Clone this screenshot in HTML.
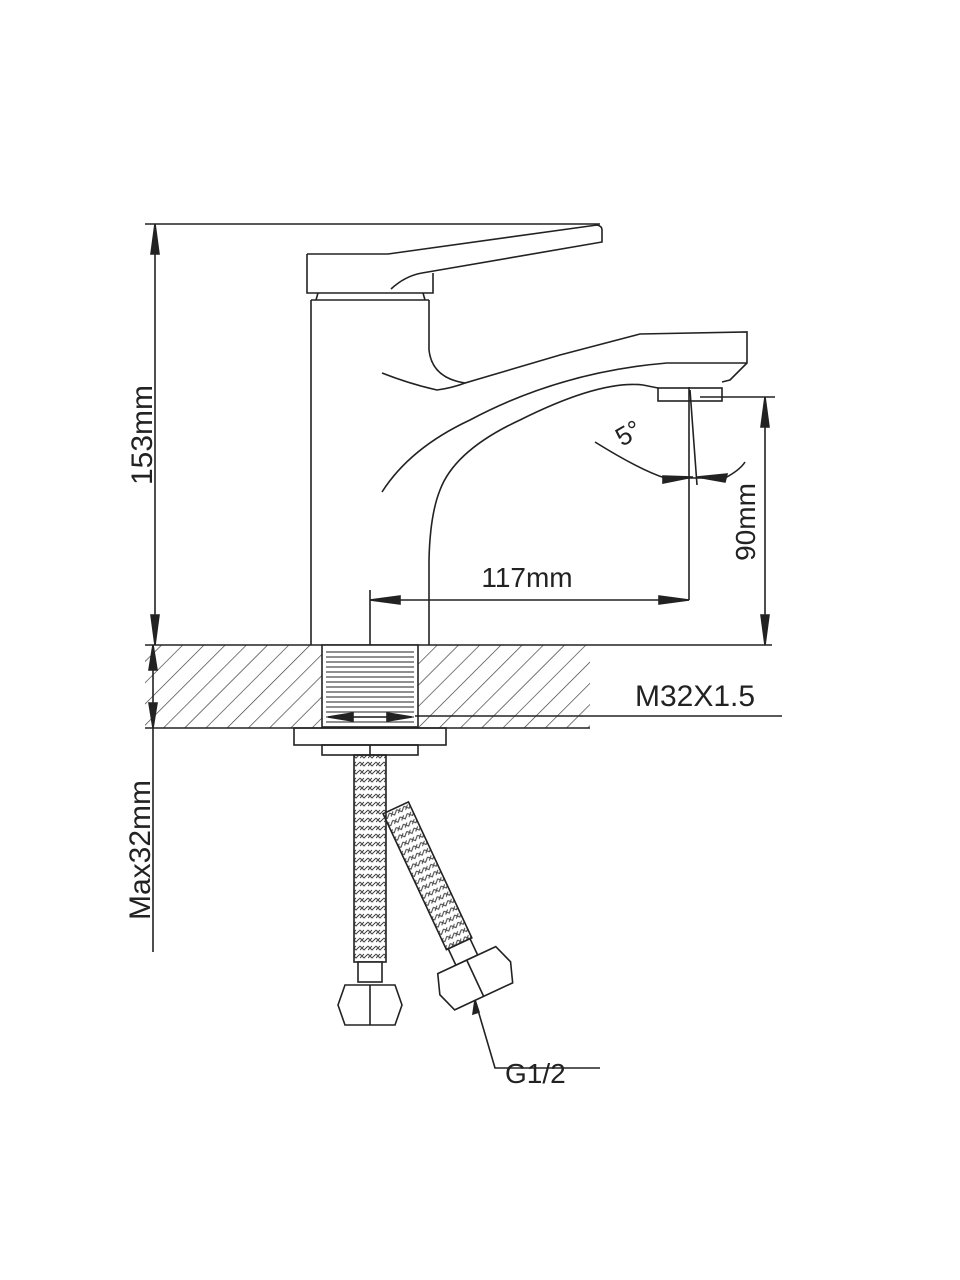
<!DOCTYPE html>
<html><head><style>html,body{margin:0;padding:0;background:#fff}svg{display:block}</style></head>
<body>
<svg width="960" height="1280" viewBox="0 0 960 1280" xmlns="http://www.w3.org/2000/svg" fill="none" stroke="#222" stroke-width="1.6">
<defs>
<pattern id="h" patternUnits="userSpaceOnUse" width="15" height="15" patternTransform="rotate(45)">
<line x1="0" y1="0" x2="0" y2="15" stroke="#333" stroke-width="1.3"/></pattern>
<pattern id="th" patternUnits="userSpaceOnUse" width="6" height="5"><line x1="0" y1="2" x2="6" y2="2" stroke="#444" stroke-width="1.2"/></pattern>
<pattern id="br" patternUnits="userSpaceOnUse" width="8" height="8"><path d="M0 2 L4 6 L8 2 M0 6 L4 2" stroke="#444" stroke-width="1"/></pattern>
</defs>
<!-- 153mm dim -->
<line x1="145" y1="224" x2="600" y2="224"/>
<line x1="155" y1="224" x2="155" y2="645"/>
<path d="M155 224 l-4 30 l8 0z M155 645 l-4 -30 l8 0z" fill="#222"/>
<text x="0" y="0" transform="translate(152,435) rotate(-90)" font-family="Liberation Sans, sans-serif" font-size="30" fill="#222" stroke="none" text-anchor="middle">153mm</text>
<!-- handle -->
<path d="M307 254 L388 254 L597 225 Q602 226 602 230 L602 242 L422 273 Q405 276 391 289"/>
<path d="M307 254 L307 293 L433 293 L433 273"/>
<path d="M316 300 L318 293 M423 293 L425 300 M311 300 L429 300"/>
<!-- body -->
<line x1="311" y1="300" x2="311" y2="645"/>
<path d="M429 300 L429 350 Q432 378 465 383 L560 355 L640 334 L747 332 L747 363 L730 380 L722 382"/>
<path d="M382 373 Q410 384 437 390 Q452 388 465 383"/>
<path d="M747 363 L667 363 Q560 372 470 420 Q410 448 382 492"/>
<path d="M658 388 L643 385 Q600 380 520 420 Q455 450 440 490 Q430 515 429 560 L429 645"/>
<rect x="658" y="388" width="64" height="13"/>
<!-- 5 deg -->
<line x1="689" y1="387" x2="689" y2="600"/>
<line x1="690" y1="390" x2="697" y2="485"/>
<path d="M595 442 Q640 470 665 478 L725 478 Q740 470 745 462"/>
<path d="M663 476 l30 1 l-30 6z M727 474 l-30 3 l28 5z" fill="#222"/>
<text x="0" y="0" transform="translate(622,447) rotate(-30)" font-family="Liberation Sans, sans-serif" font-size="26" fill="#222" stroke="none">5°</text>
<!-- 90mm -->
<line x1="700" y1="397" x2="775" y2="397"/>
<line x1="765" y1="397" x2="765" y2="645"/>
<path d="M765 397 l-4 30 l8 0z M765 645 l-4 -30 l8 0z" fill="#222"/>
<text x="0" y="0" transform="translate(755,522) rotate(-90)" font-family="Liberation Sans, sans-serif" font-size="28" fill="#222" stroke="none" text-anchor="middle">90mm</text>
<!-- 117 -->
<line x1="370" y1="590" x2="370" y2="645"/>
<line x1="370" y1="600" x2="689" y2="600"/>
<path d="M370 600 l30 -4 l0 8z M689 600 l-30 -4 l0 8z" fill="#222"/>
<text x="527" y="587" font-family="Liberation Sans, sans-serif" font-size="28" fill="#222" stroke="none" text-anchor="middle">117mm</text>
<!-- counter -->
<rect x="145" y="645" width="445" height="83" fill="url(#h)" stroke="none"/>
<line x1="145" y1="645" x2="772" y2="645"/>
<line x1="145" y1="728" x2="590" y2="728"/>
<rect x="322" y="645" width="96" height="82" fill="#fff"/>
<rect x="326" y="650" width="88" height="76" fill="url(#th)" stroke="none"/>
<path d="M328 717 l25 -4 l0 8z M412 717 l-25 -4 l0 8z" fill="#222"/>
<line x1="330" y1="717" x2="410" y2="717"/>
<line x1="415" y1="716" x2="782" y2="716"/>
<text x="695" y="706" font-family="Liberation Sans, sans-serif" font-size="30" fill="#222" stroke="none" text-anchor="middle">M32X1.5</text>
<!-- max32 -->
<line x1="153" y1="645" x2="153" y2="952"/>
<path d="M153 645 l-4 25 l8 0z M153 728 l-4 -25 l8 0z" fill="#222"/>
<text x="0" y="0" transform="translate(150,850) rotate(-90)" font-family="Liberation Sans, sans-serif" font-size="30" fill="#222" stroke="none" text-anchor="middle">Max32mm</text>
<!-- nut plate -->
<rect x="294" y="728" width="152" height="17"/>
<rect x="322" y="745" width="96" height="10"/>
<line x1="370" y1="745" x2="370" y2="755"/>
<!-- angled hose -->
<g transform="translate(374,818) rotate(-25)">
<rect x="10" y="0" width="28" height="150" fill="url(#br)"/>
<rect x="12" y="150" width="24" height="18" fill="#fff"/>
<path d="M-8 168 L56 168 L63 188 L56 208 L-8 208 L-15 188z" fill="#fff"/>
<line x1="24" y1="168" x2="24" y2="208"/>
</g>
<!-- straight hose -->
<rect x="354" y="755" width="32" height="207" fill="url(#br)"/>
<rect x="358" y="962" width="24" height="20" fill="#fff"/>
<path d="M345 985 L395 985 L402 1005 L395 1025 L345 1025 L338 1005z" fill="#fff"/>
<line x1="370" y1="985" x2="370" y2="1025"/>
<!-- G1/2 -->
<path d="M475 1000 L495 1068 L600 1068"/>
<path d="M475 1000 l-2 14 l6 -2z" fill="#222"/>
<text x="505" y="1083" font-family="Liberation Sans, sans-serif" font-size="28" fill="#222" stroke="none">G1/2</text>
</svg>
</body></html>
